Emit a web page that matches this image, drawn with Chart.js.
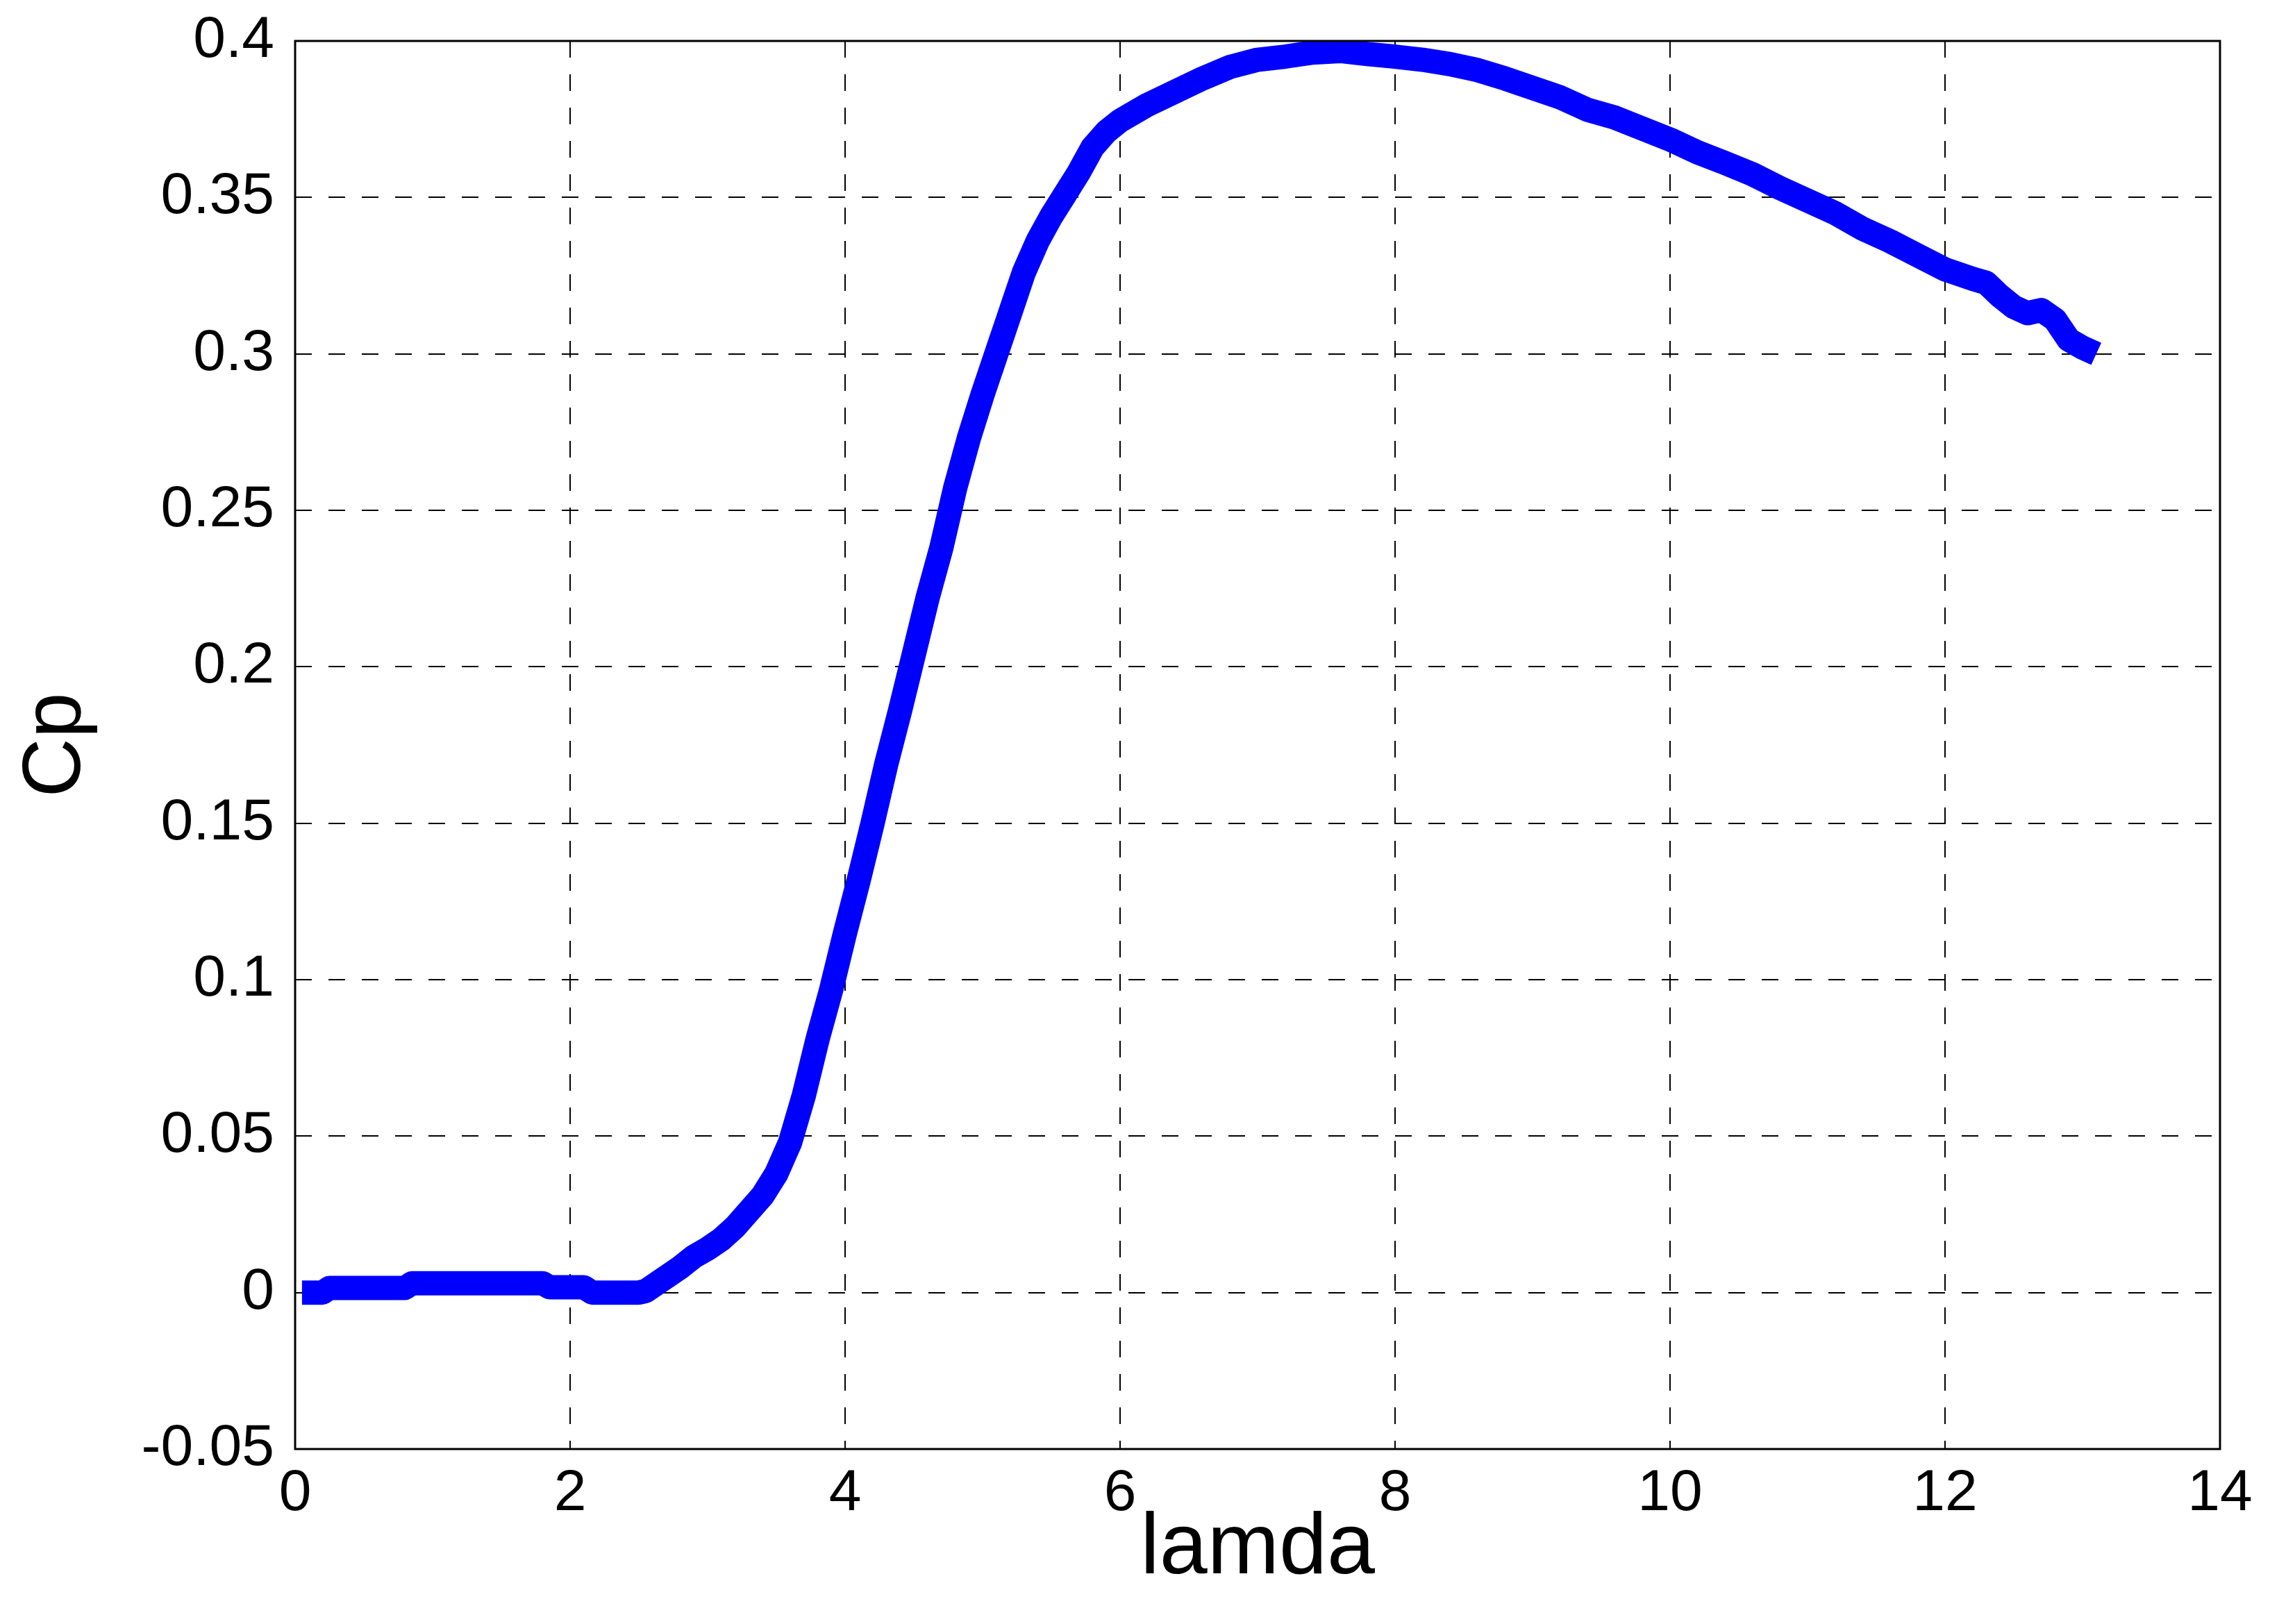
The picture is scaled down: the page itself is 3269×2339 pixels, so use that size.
<!DOCTYPE html>
<html>
<head>
<meta charset="utf-8">
<script src="https://cdn.jsdelivr.net/npm/chart.js@4.4.1/dist/chart.umd.min.js"></script>
<style>
  html, body { margin: 0; padding: 0; background: #ffffff; }
  #wrap { width: 3269px; height: 2339px; position: relative; }
</style>
</head>
<body>
<div id="wrap"><canvas id="c" width="3269" height="2339"></canvas></div>
<script>
// ---- data ----
const lamda = [0.05, 0.2, 0.25, 0.8, 0.85, 1.8, 1.85, 2.1, 2.16, 2.5, 2.55, 2.6, 2.7, 2.8, 2.9, 3.0, 3.1, 3.2, 3.3, 3.4, 3.5, 3.6, 3.7, 3.8, 3.9, 4.0, 4.1, 4.2, 4.3, 4.4, 4.5, 4.6, 4.7, 4.8, 4.9, 5.0, 5.1, 5.2, 5.3, 5.4, 5.5, 5.6, 5.7, 5.8, 5.9, 6.0, 6.2, 6.4, 6.6, 6.8, 7.0, 7.2, 7.4, 7.6, 7.8, 8.0, 8.2, 8.4, 8.6, 8.8, 9.0, 9.2, 9.4, 9.6, 9.8, 10.0, 10.2, 10.4, 10.6, 10.8, 11.0, 11.2, 11.4, 11.6, 11.8, 12.0, 12.2, 12.3, 12.4, 12.5, 12.6, 12.7, 12.8, 12.9, 13.0, 13.1];
const cp = [0.0, 0.0, 0.0015, 0.0015, 0.003, 0.003, 0.0017, 0.0017, 0.0, 0.0, 0.0005, 0.002, 0.005, 0.008, 0.0115, 0.014, 0.017, 0.021, 0.026, 0.031, 0.038, 0.048, 0.063, 0.081, 0.097, 0.115, 0.132, 0.150, 0.169, 0.186, 0.204, 0.222, 0.238, 0.257, 0.273, 0.287, 0.300, 0.313, 0.326, 0.336, 0.344, 0.351, 0.358, 0.366, 0.371, 0.3745, 0.3796, 0.3838, 0.388, 0.3917, 0.394, 0.395, 0.3963, 0.3968, 0.3958, 0.395, 0.394, 0.3926, 0.3907, 0.388, 0.385, 0.382, 0.378, 0.3755, 0.372, 0.3685, 0.3644, 0.361, 0.3574, 0.353, 0.349, 0.345, 0.340, 0.336, 0.3315, 0.327, 0.324, 0.3227, 0.3185, 0.315, 0.313, 0.314, 0.311, 0.3045, 0.302, 0.300];

const xTicks = [0, 2, 4, 6, 8, 10, 12, 14];
const xTickLabels = ['0', '2', '4', '6', '8', '10', '12', '14'];
const yTicks = [-0.05, 0, 0.05, 0.1, 0.15, 0.2, 0.25, 0.3, 0.35, 0.4];
const yTickLabels = ['-0.05', '0', '0.05', '0.1', '0.15', '0.2', '0.25', '0.3', '0.35', '0.4'];

const xTitle = 'lamda';
const yTitle = 'Cp';

const points = lamda.map((v, i) => ({ x: v, y: cp[i] }));

const FONT = '"Liberation Sans", Arial, Helvetica, sans-serif';

const framePlugin = {
  id: 'frame',
  afterDraw(chart) {
    const a = chart.chartArea;
    const ctx = chart.ctx;
    ctx.save();
    ctx.strokeStyle = '#000000';
    ctx.lineWidth = 3;
    ctx.setLineDash([]);
    ctx.strokeRect(a.left, a.top, a.right - a.left, a.bottom - a.top);
    ctx.restore();
  }
};

function labelFor(ticks, labels, value) {
  for (let i = 0; i < ticks.length; i++) {
    if (Math.abs(ticks[i] - value) < 1e-9) return labels[i];
  }
  return '';
}

new Chart(document.getElementById('c'), {
  type: 'line',
  data: {
    datasets: [{
      data: points,
      borderColor: '#0000FF',
      backgroundColor: '#0000FF',
      borderWidth: 35,
      pointRadius: 0,
      pointHoverRadius: 0,
      tension: 0,
      fill: false,
      borderJoinStyle: 'round',
      borderCapStyle: 'butt',
      clip: 0
    }]
  },
  options: {
    responsive: false,
    animation: false,
    devicePixelRatio: 1,
    layout: { autoPadding: false, padding: { top: 59, right: 72, left: 0, bottom: 0 } },
    plugins: {
      legend: { display: false },
      tooltip: { enabled: false }
    },
    scales: {
      x: {
        type: 'linear',
        min: 0,
        max: 14,
        afterBuildTicks(scale) { scale.ticks = xTicks.map(v => ({ value: v })); },
        afterFit(scale) {
          scale.height = 252;
          scale.paddingLeft = 0; scale.paddingRight = 0;
          scale.paddingTop = 0; scale.paddingBottom = 0;
        },
        ticks: {
          color: '#000000',
          font: { family: FONT, size: 84 },
          padding: 14,
          maxRotation: 0,
          autoSkip: false,
          callback: (v) => labelFor(xTicks, xTickLabels, v)
        },
        grid: { color: '#000000', lineWidth: 2, drawTicks: false },
        border: { display: false, dash: [24, 24] },
        title: {
          display: true,
          text: xTitle,
          color: '#000000',
          font: { family: FONT, size: 124 },
          padding: { top: 0, bottom: 33 }
        }
      },
      y: {
        type: 'linear',
        min: -0.05,
        max: 0.4,
        afterBuildTicks(scale) { scale.ticks = yTicks.map(v => ({ value: v })); },
        afterFit(scale) {
          scale.width = 425;
          scale.paddingLeft = 0; scale.paddingRight = 0;
          scale.paddingTop = 0; scale.paddingBottom = 0;
        },
        ticks: {
          color: '#000000',
          font: { family: FONT, size: 84 },
          padding: 30,
          autoSkip: false,
          callback: (v) => labelFor(yTicks, yTickLabels, v)
        },
        grid: { color: '#000000', lineWidth: 2, drawTicks: false },
        border: { display: false, dash: [24, 24] },
        title: {
          display: true,
          text: yTitle,
          color: '#000000',
          font: { family: FONT, size: 118 },
          padding: { top: 12, bottom: 0 }
        }
      }
    }
  },
  plugins: [framePlugin]
});
</script>
</body>
</html>
